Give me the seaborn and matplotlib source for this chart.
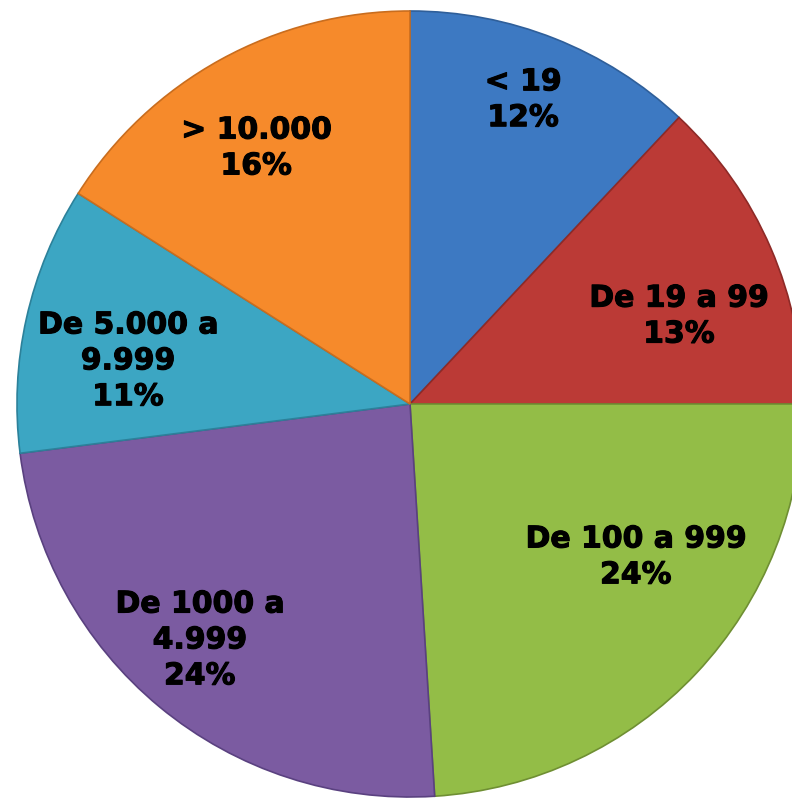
import matplotlib
matplotlib.use('Agg')
import numpy as np
import matplotlib.pyplot as plt
import matplotlib.patheffects as pe
import seaborn as sns

categories = ['< 19', 'De 19 a 99', 'De 100 a 999', 'De 1000 a\n4.999', 'De 5.000 a\n9.999', '> 10.000']
shares = [12, 13, 24, 24, 11, 16]
colors = ['#3D79C2', '#BB3A36', '#93BD47', '#7B5BA1', '#3CA6C3', '#F68A2B']
edges = ['#2F5F9A', '#8E2A27', '#6F8F33', '#5A4180', '#2C819A', '#C96D1E']

# label placement (fraction of radius, clockwise nudge in degrees from wedge middle)
label_r = [0.826, 0.72, 0.694, 0.804, 0.726, 0.76]
label_nudge = [-1.2, 5.3, -9.1, 2.1, -3.9, -2.2]

sns.set_theme(style='white')
plt.rcParams['font.family'] = ['DejaVu Sans']

fig = plt.figure(figsize=(7.92, 7.99), dpi=100)
ax = fig.add_axes([0, 0, 1, 1])

labels = [f'{c}\n{s}%' for c, s in zip(categories, shares)]
wedges, texts = ax.pie(shares, labels=labels, colors=colors, startangle=90, counterclock=False,
                       wedgeprops=dict(linewidth=1.2),
                       textprops=dict(fontsize=21.5, fontweight='bold', color='black', linespacing=1.3))
for w, e, t, r, d in zip(wedges, edges, texts, label_r, label_nudge):
    w.set_edgecolor(e)
    ang = np.deg2rad((w.theta1 + w.theta2) / 2 - d)
    t.set_position((r * np.cos(ang), r * np.sin(ang)))
    t.set_ha('center')
    t.set_va('center')
    t.set_path_effects([pe.withStroke(linewidth=0.8, foreground='black')])

# pie centre sits at pixel (410, 404), radius ~393 px
ax.set_aspect('auto')
ax.set_xlim(-410 / 393, (792 - 410) / 393)
ax.set_ylim(-(799 - 404) / 393, 404 / 393)
ax.axis('off')

fig.savefig('out.png', dpi=100)
